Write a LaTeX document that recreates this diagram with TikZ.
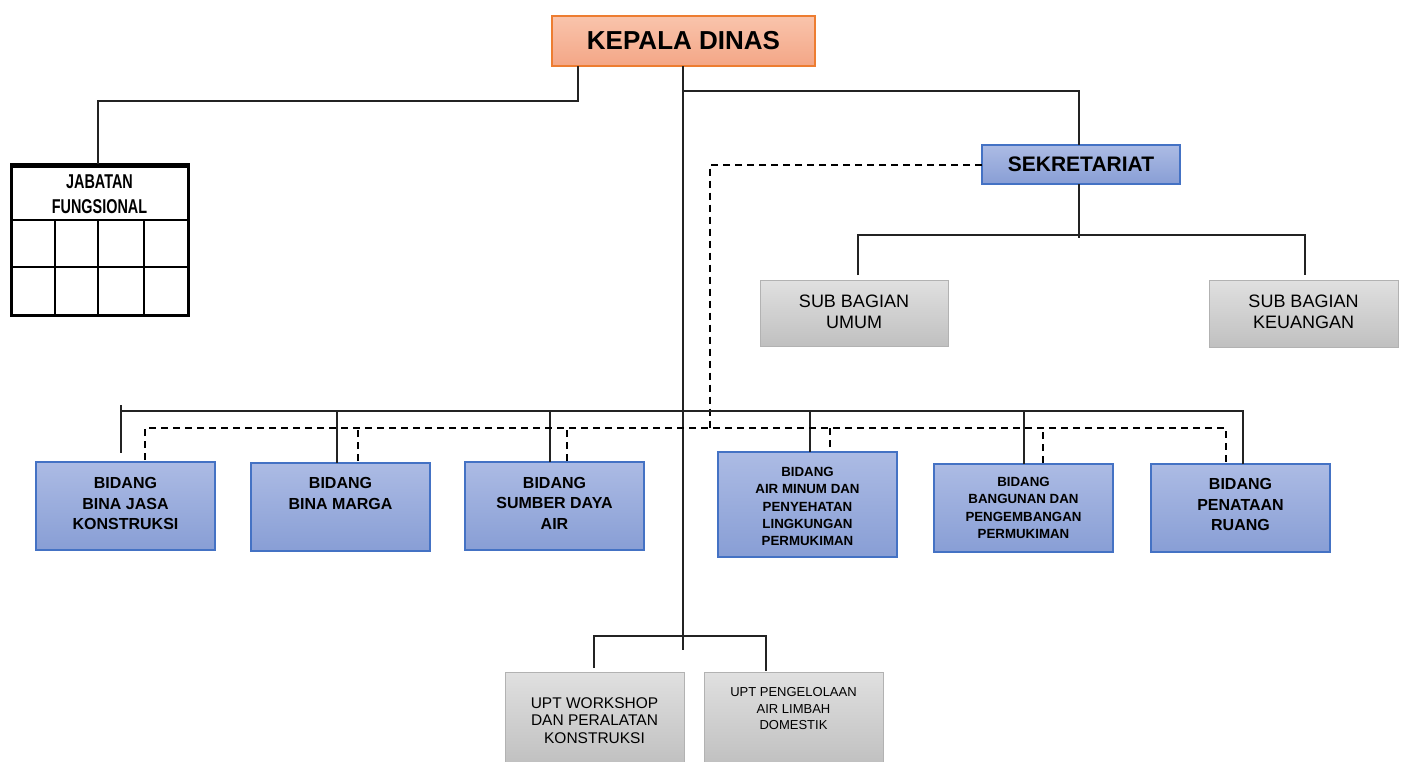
\documentclass[tikz,border=0pt]{standalone}
\usepackage{fontspec}
\setmainfont{Liberation Sans}
\newfontfamily\condfont[FakeStretch=0.72]{Liberation Sans}
\definecolor{kfillA}{RGB}{249,196,172}
\definecolor{kfillB}{RGB}{244,166,134}
\definecolor{kdraw}{RGB}{237,125,49}
\definecolor{bfillA}{RGB}{172,187,228}
\definecolor{bfillB}{RGB}{136,158,213}
\definecolor{bdraw}{RGB}{68,114,196}
\definecolor{gfillA}{RGB}{224,224,224}
\definecolor{gfillB}{RGB}{192,192,192}
\definecolor{gdraw}{RGB}{178,178,178}
\definecolor{lncol}{RGB}{35,35,35}
\tikzset{
  boxbase/.style={rectangle, inner sep=0pt, outer sep=0pt},
  kbox/.style={boxbase, draw=kdraw, line width=1.3pt, top color=kfillA, bottom color=kfillB},
  bbox/.style={boxbase, draw=bdraw, line width=1.3pt, top color=bfillA, bottom color=bfillB},
  gbox/.style={boxbase, draw=gdraw, line width=1pt, top color=gfillA, bottom color=gfillB},
  conn/.style={draw=lncol, line width=1.5pt},
  dsh/.style={draw=black, line width=2pt, dash pattern=on 7pt off 5pt},
  btext/.style={align=center, inner sep=0pt, font=\bfseries\fontsize{16}{20.5}\selectfont},
  bstext/.style={align=center, inner sep=0pt, font=\bfseries\fontsize{13.3}{17.3}\selectfont},
  gtext/.style={align=center, inner sep=0pt, font=\fontsize{18}{21}\selectfont},
}
\begin{document}
\begin{tikzpicture}[x=1pt,y=-1pt]
\useasboundingbox (0,0) rectangle (1403,761);

% main boxes
\node[kbox, minimum width=263pt, minimum height=50pt, font=\bfseries\fontsize{26}{30}\selectfont] (kd) at (683.5,41) {KEPALA DINAS};
\node[bbox, minimum width=198pt, minimum height=39pt, font=\bfseries\fontsize{21}{25}\selectfont] (sek) at (1081,164.5) {SEKRETARIAT};

\node[gbox, minimum width=188pt, minimum height=66pt] (sbu) at (854,313) {};
\node[gtext] (sbu-t) at (854,311.5) {SUB BAGIAN\\UMUM};
\node[gbox, minimum width=189pt, minimum height=67pt] (sbk) at (1303.5,313.5) {};
\node[gtext] (sbk-t) at (1303.5,311.5) {SUB BAGIAN\\KEUANGAN};

% jabatan fungsional table
\node[boxbase, draw=black, line width=3pt, fill=white, minimum width=177pt, minimum height=151pt] (jab) at (99.5,239.5) {};
\draw[black, line width=5pt] ([yshift=-1pt]jab.north west) -- ([yshift=-1pt]jab.north east);
\draw[black, line width=2.6pt] (11,220) -- (188,220) (11,267) -- (188,267)
  (55,220) -- (55,315) (98,220) -- (98,315) (144,220) -- (144,315);
\node[align=center, inner sep=0pt, font=\condfont\bfseries\fontsize{20}{25}\selectfont] (jab-t) at (99.5,194) {JABATAN\\FUNGSIONAL};

% bidang boxes
\node[bbox, minimum width=179pt, minimum height=88pt] (bjk) at (125.5,506) {};
\node[btext] (bjk-t) at (125.5,503.5) {BIDANG\\BINA JASA\\KONSTRUKSI};
\node[bbox, minimum width=179pt, minimum height=88pt] (bm) at (340.5,507) {};
\node[btext] (bm-t) at (340.5,493.5) {BIDANG\\BINA MARGA};
\node[bbox, minimum width=179pt, minimum height=88pt] (sda) at (554.5,506) {};
\node[btext] (sda-t) at (554.5,503) {BIDANG\\SUMBER DAYA\\AIR};
\node[bbox, minimum width=179pt, minimum height=105pt] (am) at (807.5,504.5) {};
\node[bstext] (am-t) at (807.5,506.5) {BIDANG\\AIR MINUM DAN\\PENYEHATAN\\LINGKUNGAN\\PERMUKIMAN};
\node[bbox, minimum width=179pt, minimum height=88pt] (bp) at (1023.5,508) {};
\node[bstext] (bp-t) at (1023.5,508) {BIDANG\\BANGUNAN DAN\\PENGEMBANGAN\\PERMUKIMAN};
\node[bbox, minimum width=179pt, minimum height=88pt] (pr) at (1240.5,508) {};
\node[btext] (pr-t) at (1240.5,504.5) {BIDANG\\PENATAAN\\RUANG};

% UPT boxes
\node[gbox, minimum width=179pt, minimum height=93pt] (uw) at (594.5,718.5) {};
\node[align=center, inner sep=0pt, font=\fontsize{15.5}{17.5}\selectfont] (uw-t) at (594.5,720.5) {UPT WORKSHOP\\DAN PERALATAN\\KONSTRUKSI};
\node[gbox, minimum width=179pt, minimum height=93pt] (up) at (793.5,718.5) {};
\node[align=center, inner sep=0pt, font=\fontsize{13}{16.5}\selectfont] (up-t) at (793.5,709) {UPT PENGELOLAAN\\AIR LIMBAH\\DOMESTIK};

% connectors
\coordinate (kL) at (578,101);
\draw[conn] (kd.south -| kL) -- (kL) -| ([xshift=-1.5pt]jab.north);

\coordinate (mainEnd) at (683,650);
\draw[conn, line width=1.8pt] (kd.south -| mainEnd) -- (mainEnd);

\coordinate (sekBus) at (683,91);
\draw[conn] (sekBus) -| ([xshift=-2pt]sek.north);

\coordinate (sbBus) at (1079,235);
\draw[conn] ([xshift=-2pt]sek.south) -- ([yshift=-3pt]sbBus);
\draw[conn] ([xshift=4pt,yshift=5pt]sbu.north) |- (sbBus) -| ([xshift=1.5pt,yshift=5pt]sbk.north);

% dashed line from sekretariat
\coordinate (dEnd) at (710,432);
\draw[dsh] (sek.west) -| (dEnd);

% bidang solid bus
\coordinate (bL) at (121,411);
\coordinate (bR) at (1243,411);
\draw[conn] ([yshift=6pt]bL) -- ([xshift=-4.5pt,yshift=9pt]bjk.north);
\draw[conn] (bL) -- (bR) -- ([xshift=2.5pt]pr.north);
\draw[conn] ([xshift=-3.5pt]bm.north) -- ([xshift=-3.5pt]bm.north |- bL);
\draw[conn] ([xshift=-4.5pt]sda.north) -- ([xshift=-4.5pt]sda.north |- bL);
\draw[conn] ([xshift=2.5pt]am.north) -- ([xshift=2.5pt]am.north |- bL);
\draw[conn] ([xshift=0.5pt]bp.north) -- ([xshift=0.5pt]bp.north |- bL);

% bidang dashed bus
\coordinate (dBusR) at (1226,428);
\draw[dsh] ([xshift=19.5pt,yshift=2pt]bjk.north) |- (dBusR) -- ([xshift=-14.5pt,yshift=1pt]pr.north);
\draw[dsh] ([xshift=17.5pt,yshift=2pt]bm.north) -- ([xshift=17.5pt]bm.north |- dBusR);
\draw[dsh] ([xshift=12.5pt,yshift=1pt]sda.north) -- ([xshift=12.5pt]sda.north |- dBusR);
\draw[dsh] ([xshift=22.5pt,yshift=5pt]am.north) -- ([xshift=22.5pt]am.north |- dBusR);
\draw[dsh] ([xshift=19.5pt,yshift=1pt]bp.north) -- ([xshift=19.5pt]bp.north |- dBusR);

% UPT bus
\coordinate (uBus) at (683,636);
\draw[conn] ([xshift=-0.5pt,yshift=4pt]uw.north) |- (uBus) -| ([xshift=-27.5pt,yshift=1pt]up.north);
\end{tikzpicture}
\end{document}
